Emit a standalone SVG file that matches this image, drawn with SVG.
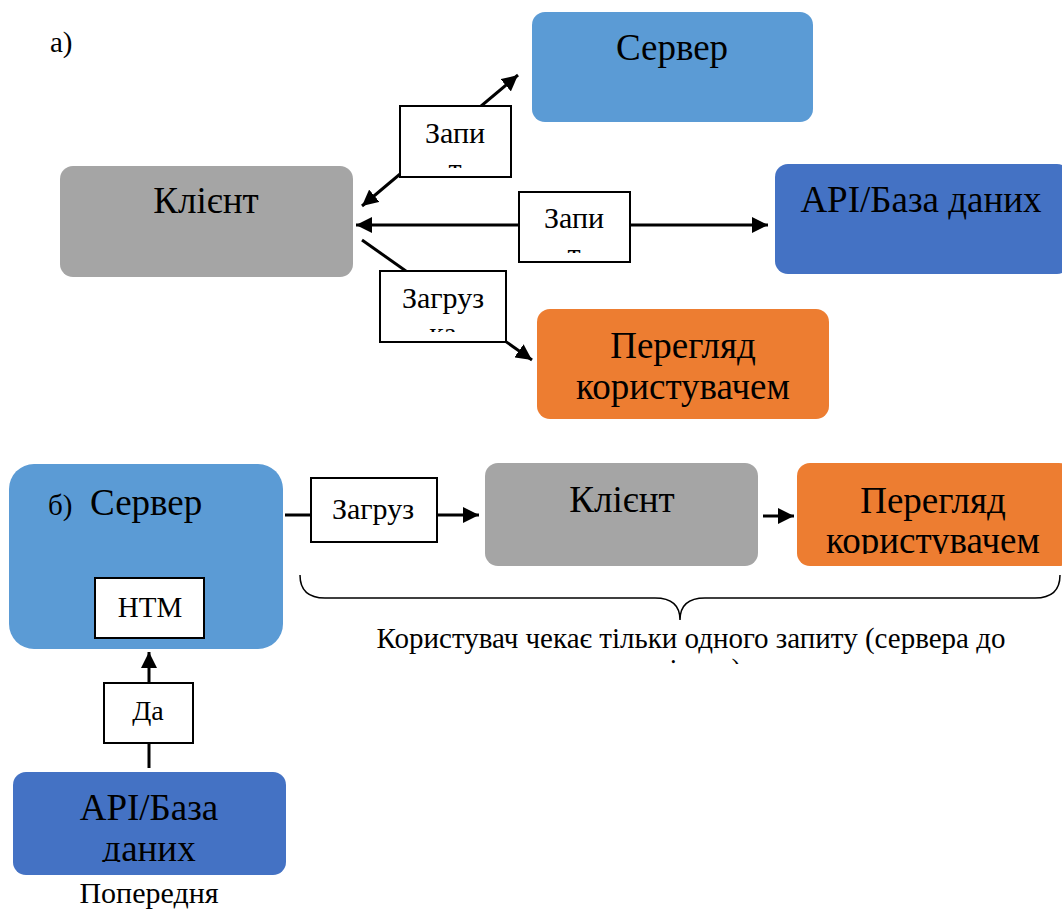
<svg xmlns="http://www.w3.org/2000/svg" width="1062" height="910" viewBox="0 0 1062 910">
<style>
  text { font-family: "Liberation Serif", "Times New Roman", serif; fill: #000; }
  .node { font-size: 37px; text-anchor: middle; }
  .lbl { font-size: 30px; text-anchor: middle; }
  .small { font-size: 29px; }
  .conn { stroke: #000; stroke-width: 3; fill: none; }
  .lblbox { fill: #fff; stroke: #000; stroke-width: 2; }
  .grey { fill: #A5A5A5; }
  .lblue { fill: #5B9BD5; }
  .dblue { fill: #4472C4; }
  .orange { fill: #ED7D31; }
</style>
<defs>
  <marker id="ah" markerUnits="userSpaceOnUse" markerWidth="18" markerHeight="16" refX="16" refY="8" orient="auto-start-reverse">
    <path d="M0,0 L16,8 L0,16 Z" fill="#000"/>
  </marker>
  <clipPath id="c1"><rect x="401" y="107" width="109" height="61"/></clipPath>
  <clipPath id="c2"><rect x="520" y="193" width="109" height="60"/></clipPath>
  <clipPath id="c3"><rect x="381" y="272" width="124" height="60"/></clipPath>
  <clipPath id="c4"><rect x="797" y="463" width="265" height="91"/></clipPath>
  <clipPath id="c5"><rect x="13" y="772" width="273" height="90"/></clipPath>
  <clipPath id="c6"><rect x="300" y="620" width="762" height="44"/></clipPath>
</defs>

<g id="connectors">
  <line class="conn" x1="362" y1="206" x2="518" y2="75" marker-start="url(#ah)" marker-end="url(#ah)"/>
  <line class="conn" x1="356" y1="225" x2="768" y2="225" marker-start="url(#ah)" marker-end="url(#ah)"/>
  <line class="conn" x1="362" y1="240" x2="532" y2="360" marker-end="url(#ah)"/>
  <line class="conn" x1="285" y1="515" x2="479" y2="515" marker-end="url(#ah)"/>
  <line class="conn" x1="763" y1="516" x2="794" y2="516" marker-end="url(#ah)"/>
  <line class="conn" x1="149" y1="768" x2="149" y2="652" marker-end="url(#ah)"/>
  <path d="M300,575 Q300,598 325,598 L655,598 Q680,598 680,620 Q680,598 705,598 L1035,598 Q1060,598 1060,575" fill="none" stroke="#000" stroke-width="1.5"/>
</g>

<text id="label-a" class="small" x="50" y="52">а)</text>

<g id="client-top">
  <rect class="grey" x="60" y="166" width="293" height="111" rx="13"/>
  <text class="node" x="206" y="213">Клієнт</text>
</g>
<g id="server-top">
  <rect class="lblue" x="532" y="12" width="281" height="110" rx="13"/>
  <text class="node" x="672" y="60">Сервер</text>
</g>
<g id="api-top">
  <rect class="dblue" x="775" y="164" width="295" height="110" rx="13"/>
  <text class="node" x="921" y="212">API/База даних</text>
</g>
<g id="view-top">
  <rect class="orange" x="537" y="309" width="292" height="110" rx="13"/>
  <text class="node" x="683" y="358">Перегляд</text>
  <text class="node" x="683" y="399">користувачем</text>
</g>

<g id="label-req1">
  <rect class="lblbox" x="400" y="106" width="111" height="71"/>
  <g clip-path="url(#c1)">
    <text class="lbl" x="455" y="143">Запи</text>
    <text class="lbl" x="455" y="179">т</text>
  </g>
</g>
<g id="label-req2">
  <rect class="lblbox" x="519" y="192" width="111" height="70"/>
  <g clip-path="url(#c2)">
    <text class="lbl" x="574" y="228">Запи</text>
    <text class="lbl" x="574" y="264">т</text>
  </g>
</g>
<g id="label-load1">
  <rect class="lblbox" x="380" y="271" width="126" height="71"/>
  <g clip-path="url(#c3)">
    <text class="lbl" x="443" y="308">Загруз</text>
    <text class="lbl" x="443" y="343">ка</text>
  </g>
</g>

<g id="server-bottom">
  <rect class="lblue" x="9" y="464" width="274" height="185" rx="25"/>
  <text class="small" x="48" y="515">б)</text>
  <text style="font-size:37px" x="90" y="515">Сервер</text>
</g>
<g id="label-htm">
  <rect class="lblbox" x="95" y="578" width="109" height="60"/>
  <text class="lbl" x="150" y="617" style="font-size:29px">HTM</text>
</g>
<g id="label-data">
  <rect class="lblbox" x="104" y="683" width="89" height="60"/>
  <text class="lbl" x="148" y="720" style="font-size:28px">Да</text>
</g>
<g id="api-bottom">
  <rect class="dblue" x="13" y="772" width="273" height="103" rx="13"/>
  <g clip-path="url(#c5)">
    <text class="node" x="149" y="820">API/База</text>
    <text class="node" x="149" y="861">даних</text>
  </g>
</g>
<text id="caption-prev" class="lbl" x="149" y="903">Попередня</text>

<g id="label-load2">
  <rect class="lblbox" x="311" y="478" width="126" height="64"/>
  <text class="lbl" x="373" y="519">Загруз</text>
</g>
<g id="client-bottom">
  <rect class="grey" x="485" y="463" width="273" height="103" rx="13"/>
  <text class="node" x="622" y="512">Клієнт</text>
</g>
<g id="view-bottom">
  <rect class="orange" x="797" y="463" width="275" height="103" rx="13"/>
  <g clip-path="url(#c4)">
    <text class="node" x="933" y="513">Перегляд</text>
    <text class="node" x="933" y="553">користувачем</text>
  </g>
</g>

<g id="brace-caption">
  <text class="small" x="691" y="648" text-anchor="middle">Користувач чекає тільки одного запиту (сервера до</text>
  <g clip-path="url(#c6)">
    <text class="small" x="691" y="679" text-anchor="middle">клієнта)</text>
  </g>
</g>
</svg>
